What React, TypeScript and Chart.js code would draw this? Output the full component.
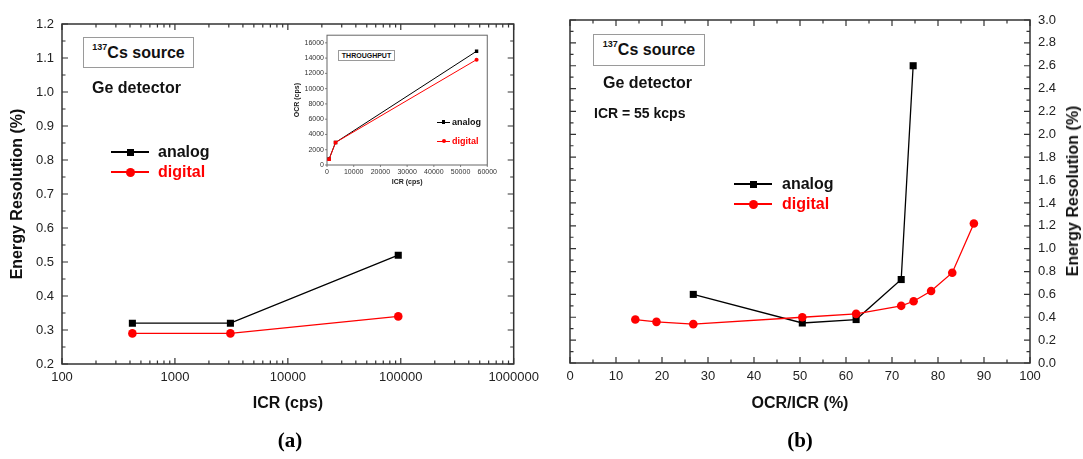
import React, { useEffect, useRef } from "react";
import { Chart, registerables } from "chart.js";
Chart.register(...registerables);

// ---------- data ----------
const icrValues = [420, 3100, 95000];
const analogResA = [0.32, 0.32, 0.52];
const digitalResA = [0.29, 0.29, 0.34];

const insetAnalogIcr = [800, 3200, 56000];
const insetAnalogOcr = [800, 2950, 14900];
const insetDigitalIcr = [800, 3200, 56000];
const insetDigitalOcr = [750, 2950, 13800];

const ratioAnalog = [26.8, 50.5, 62.2, 72.0, 74.6];
const analogResB = [0.6, 0.35, 0.38, 0.73, 2.6];
const ratioDigital = [14.2, 18.8, 26.8, 50.5, 62.2, 72.0, 74.7, 78.5, 83.1, 87.8];
const digitalResB = [0.38, 0.36, 0.34, 0.4, 0.43, 0.5, 0.54, 0.63, 0.79, 1.22];

// ---------- tick labels ----------
const icrAxisTicks = [100, 1000, 10000, 100000, 1000000];
const resAxisTicksA = [0.2, 0.3, 0.4, 0.5, 0.6, 0.7, 0.8, 0.9, 1.0, 1.1, 1.2];
const ratioAxisTicks = [0, 10, 20, 30, 40, 50, 60, 70, 80, 90, 100];
const resAxisTicksB = [0, 0.2, 0.4, 0.6, 0.8, 1.0, 1.2, 1.4, 1.6, 1.8, 2.0, 2.2, 2.4, 2.6, 2.8, 3.0];
const insetIcrTicks = [0, 10000, 20000, 30000, 40000, 50000, 60000];
const insetOcrTicks = [0, 2000, 4000, 6000, 8000, 10000, 12000, 14000, 16000];

const SANS = "'Liberation Sans', Arial, sans-serif";
const SERIF = "'Liberation Serif', 'Times New Roman', serif";
const RED = "#ff0000";

const mids = (a: number[]) => a.slice(0, -1).map((v, i) => (v + a[i + 1]) / 2);
const logMinor = (a: number[]) =>
  a.slice(0, -1).flatMap((d) => [2, 3, 4, 5, 6, 7, 8, 9].map((m) => m * d));

const framePlugin = {
  id: "frame",
  beforeDatasetsDraw(chart: any, _args: any, o: any) {
    const { ctx, chartArea, scales } = chart;
    const { left, right, top, bottom } = chartArea;
    const x = scales.x, y = scales.y;
    ctx.save();
    ctx.strokeStyle = o.color;
    ctx.lineWidth = o.lineWidth;
    ctx.strokeRect(left, top, right - left, bottom - top);
    ctx.lineWidth = o.tickWidth;
    ctx.beginPath();
    const d = o.dir;
    const xt = (vals: number[], len: number) =>
      vals.forEach((v) => {
        const p = x.getPixelForValue(v);
        ctx.moveTo(p, bottom);
        ctx.lineTo(p, bottom - d * len);
        if (o.mirror) {
          ctx.moveTo(p, top);
          ctx.lineTo(p, top + d * len);
        }
      });
    const yt = (vals: number[], len: number) =>
      vals.forEach((v) => {
        const p = y.getPixelForValue(v);
        ctx.moveTo(left, p);
        ctx.lineTo(left + d * len, p);
        if (o.mirror) {
          ctx.moveTo(right, p);
          ctx.lineTo(right - d * len, p);
        }
      });
    xt(o.xMajor, o.majorLen);
    xt(o.xMinor, o.minorLen);
    yt(o.yMajor, o.majorLen);
    yt(o.yMinor, o.minorLen);
    ctx.stroke();
    ctx.restore();
  },
};

const setTicks = (vals: number[]) => (s: any) => {
  s.ticks = vals.map((v) => ({ value: v }));
};

function makeSeries(xs: number[], ys: number[]) {
  return xs.map((x, i) => ({ x, y: ys[i] }));
}

function useChart(ref: React.RefObject<HTMLCanvasElement>, cfg: () => any) {
  useEffect(() => {
    if (!ref.current) return;
    const c = new Chart(ref.current, cfg());
    return () => c.destroy();
  }, []);
}

const tickFont = { family: SANS, size: 13 };
const titleFont = { family: SANS, size: 16, weight: "bold" as const };

function leftConfig() {
  return {
    type: "scatter",
    data: {
      datasets: [
        {
          label: "digital",
          data: makeSeries(icrValues, digitalResA),
          showLine: true,
          borderColor: RED,
          borderWidth: 1.3,
          pointStyle: "circle",
          pointRadius: 4.3,
          pointBackgroundColor: RED,
          pointBorderColor: RED,
          pointBorderWidth: 0,
        },
        {
          label: "analog",
          data: makeSeries(icrValues, analogResA),
          showLine: true,
          borderColor: "#000",
          borderWidth: 1.3,
          pointStyle: "rect",
          pointRadius: 5,
          pointBackgroundColor: "#000",
          pointBorderColor: "#000",
          pointBorderWidth: 0,
        },
      ],
    },
    options: {
      animation: false,
      responsive: false,
      events: [],
      layout: { padding: { top: 24, right: 28, left: 0, bottom: 0 } },
      plugins: {
        legend: { display: false },
        tooltip: { enabled: false },
        frame: {
          color: "#333", lineWidth: 1.5, tickWidth: 1.2, majorLen: 6, minorLen: 3.5, dir: 1, mirror: true,
          xMajor: icrAxisTicks, xMinor: logMinor(icrAxisTicks),
          yMajor: resAxisTicksA, yMinor: mids(resAxisTicksA),
        },
      },
      scales: {
        x: {
          type: "logarithmic",
          min: 100,
          max: 1000000,
          afterBuildTicks: setTicks(icrAxisTicks),
          afterFit: (s: any) => { s.height = 95; },
          grid: { display: false, drawTicks: false },
          border: { display: false },
          ticks: { font: tickFont, color: "#222", padding: 6, maxRotation: 0, autoSkip: false, callback: (v: any) => String(v) },
          title: { display: true, text: "ICR (cps)", font: titleFont, color: "#111", padding: { top: 0, bottom: 46 } },
        },
        y: {
          type: "linear",
          min: 0.2,
          max: 1.2,
          afterBuildTicks: setTicks(resAxisTicksA),
          afterFit: (s: any) => { s.width = 62; },
          grid: { display: false, drawTicks: false },
          border: { display: false },
          ticks: { font: tickFont, color: "#222", padding: 8, autoSkip: false, callback: (v: any) => Number(v).toFixed(1) },
          title: { display: true, text: "Energy Resolution (%)", font: titleFont, color: "#111", padding: { top: 8, bottom: 0 } },
        },
      },
    },
    plugins: [framePlugin],
  };
}

function insetConfig() {
  const f7 = { family: SANS, size: 7 };
  return {
    type: "scatter",
    data: {
      datasets: [
        {
          label: "digital",
          data: makeSeries(insetDigitalIcr, insetDigitalOcr),
          showLine: true,
          borderColor: RED,
          borderWidth: 1,
          pointStyle: ["rect", "rect", "circle"],
          pointRadius: [2.6, 2.6, 2],
          pointBackgroundColor: RED,
          pointBorderWidth: 0,
        },
        {
          label: "analog",
          data: makeSeries(insetAnalogIcr, insetAnalogOcr),
          showLine: true,
          borderColor: "#000",
          borderWidth: 1,
          pointStyle: "rect",
          pointRadius: 2.4,
          pointBackgroundColor: "#000",
          pointBorderWidth: 0,
        },
      ],
    },
    options: {
      animation: false,
      responsive: false,
      events: [],
      layout: { padding: { top: 7, right: 7, left: 0, bottom: 0 } },
      plugins: {
        legend: { display: false },
        tooltip: { enabled: false },
        frame: {
          color: "#666", lineWidth: 1, tickWidth: 0.8, majorLen: 2, minorLen: 0, dir: -1, mirror: false,
          xMajor: insetIcrTicks, xMinor: [], yMajor: insetOcrTicks, yMinor: [],
        },
      },
      scales: {
        x: {
          type: "linear",
          min: 0,
          max: 60000,
          afterBuildTicks: setTicks(insetIcrTicks),
          afterFit: (s: any) => { s.height = 28; },
          grid: { display: false, drawTicks: false },
          border: { display: false },
          ticks: { font: f7, color: "#333", padding: 3, maxRotation: 0, autoSkip: false, callback: (v: any) => String(v) },
          title: { display: true, text: "ICR (cps)", font: { family: SANS, size: 7, weight: "bold" }, color: "#222", padding: { top: 0, bottom: 6.8 } },
        },
        y: {
          type: "linear",
          min: 0,
          max: 17000,
          afterBuildTicks: setTicks(insetOcrTicks),
          afterFit: (s: any) => { s.width = 42; },
          grid: { display: false, drawTicks: false },
          border: { display: false },
          ticks: { font: f7, color: "#333", padding: 3, autoSkip: false, callback: (v: any) => String(v) },
          title: { display: true, text: "OCR (cps)", font: { family: SANS, size: 7, weight: "bold" }, color: "#222", padding: { top: 7.8, bottom: 0 } },
        },
      },
    },
    plugins: [framePlugin],
  };
}

function rightConfig() {
  return {
    type: "scatter",
    data: {
      datasets: [
        {
          label: "digital",
          data: makeSeries(ratioDigital, digitalResB),
          showLine: true,
          borderColor: RED,
          borderWidth: 1.3,
          pointStyle: "circle",
          pointRadius: 4.3,
          pointBackgroundColor: RED,
          pointBorderWidth: 0,
        },
        {
          label: "analog",
          data: makeSeries(ratioAnalog, analogResB),
          showLine: true,
          borderColor: "#000",
          borderWidth: 1.3,
          pointStyle: "rect",
          pointRadius: 5,
          pointBackgroundColor: "#000",
          pointBorderWidth: 0,
        },
      ],
    },
    options: {
      animation: false,
      responsive: false,
      events: [],
      layout: { padding: { top: 20, right: 0, left: 25, bottom: 0 } },
      plugins: {
        legend: { display: false },
        tooltip: { enabled: false },
        frame: {
          color: "#333", lineWidth: 1.5, tickWidth: 1.2, majorLen: 6, minorLen: 3.5, dir: 1, mirror: true,
          xMajor: ratioAxisTicks, xMinor: mids(ratioAxisTicks),
          yMajor: resAxisTicksB, yMinor: mids(resAxisTicksB),
        },
      },
      scales: {
        x: {
          type: "linear",
          min: 0,
          max: 100,
          afterBuildTicks: setTicks(ratioAxisTicks),
          afterFit: (s: any) => { s.height = 96; },
          grid: { display: false, drawTicks: false },
          border: { display: false },
          ticks: { font: tickFont, color: "#222", padding: 6, maxRotation: 0, autoSkip: false, callback: (v: any) => String(v) },
          title: { display: true, text: "OCR/ICR (%)", font: titleFont, color: "#111", padding: { top: 0, bottom: 46 } },
        },
        y: {
          type: "linear",
          position: "right",
          min: 0,
          max: 3,
          afterBuildTicks: setTicks(resAxisTicksB),
          afterFit: (s: any) => { s.width = 53; },
          grid: { display: false, drawTicks: false },
          border: { display: false },
          ticks: { font: tickFont, color: "#222", padding: 8, autoSkip: false, callback: (v: any) => Number(v).toFixed(1) },
          title: { display: false },
        },
      },
    },
    plugins: [framePlugin],
  };
}

const abs = (s: React.CSSProperties): React.CSSProperties => ({ position: "absolute", ...s });

function Label(props: { x: number; y: number; text: React.ReactNode; size: number; color?: string; center?: boolean; family?: string; rotate?: number }) {
  const { x, y, text, size, color = "#111", center = false, family = SANS, rotate = 0 } = props;
  return (
    <div
      style={abs({
        left: x,
        top: y,
        transform: `translate(${center ? "-50%" : "0"}, -50%) rotate(${rotate}deg)`,
        fontFamily: family,
        fontWeight: "bold",
        fontSize: size,
        color,
        whiteSpace: "nowrap",
        lineHeight: 1,
      })}
    >
      {text}
    </div>
  );
}

function Box(props: { x1: number; y1: number; x2: number; y2: number; children: React.ReactNode; size: number }) {
  const { x1, y1, x2, y2, children, size } = props;
  return (
    <div
      style={abs({
        left: x1,
        top: y1,
        width: x2 - x1,
        height: y2 - y1,
        boxSizing: "border-box",
        border: "1px solid #9a9a9a",
        display: "flex",
        alignItems: "center",
        justifyContent: "center",
        fontFamily: SANS,
        fontWeight: "bold",
        fontSize: size,
        color: "#111",
        whiteSpace: "nowrap",
        background: "#fff",
      })}
    >
      {children}
    </div>
  );
}

function LegendRow(props: { x1: number; x2: number; y: number; color: string; marker: "rect" | "circle"; msize: number; textX: number; text: string; size: number; lw?: number }) {
  const { x1, x2, y, color, marker, msize, textX, text, size, lw = 1.4 } = props;
  const mx = (x1 + x2) / 2;
  return (
    <>
      <div style={abs({ left: x1, top: y - lw / 2, width: x2 - x1, height: lw, background: color })} />
      <div
        style={abs({
          left: mx - msize / 2,
          top: y - msize / 2,
          width: msize,
          height: msize,
          background: color,
          borderRadius: marker === "circle" ? "50%" : 0,
        })}
      />
      <Label x={textX} y={y} text={text} size={size} color={color === RED ? RED : "#111"} />
    </>
  );
}

function Source({ sup }: { sup: number }) {
  return (
    <span>
      <sup style={{ fontSize: sup, verticalAlign: "top", position: "relative", top: -2 }}>137</sup>Cs source
    </span>
  );
}

export default function App() {
  const leftRef = useRef<HTMLCanvasElement>(null);
  const insetRef = useRef<HTMLCanvasElement>(null);
  const rightRef = useRef<HTMLCanvasElement>(null);
  useChart(leftRef, leftConfig);
  useChart(rightRef, rightConfig);
  useChart(insetRef, insetConfig);

  return (
    <div style={abs({ left: 0, top: 0, width: 1083, height: 459, background: "#fff", overflow: "hidden" })}>
      <canvas ref={leftRef} width={545} height={459} style={abs({ left: 0, top: 0, width: 545, height: 459 })} />
      <canvas ref={rightRef} width={538} height={459} style={abs({ left: 545, top: 0, width: 538, height: 459 })} />

      {/* left panel annotations */}
      <Box x1={83} y1={37} x2={194} y2={68} size={16}>
        <Source sup={9} />
      </Box>
      <Label x={92} y={88} text="Ge detector" size={16} />
      <LegendRow x1={111} x2={149} y={152} color="#000" marker="rect" msize={7} textX={158} text="analog" size={16} />
      <LegendRow x1={111} x2={149} y={172} color={RED} marker="circle" msize={9} textX={158} text="digital" size={16} />

      {/* inset */}
      <canvas ref={insetRef} width={215} height={165} style={abs({ left: 285, top: 28, width: 215, height: 165 })} />
      <Box x1={338} y1={50} x2={395} y2={61} size={7}>
        THROUGHPUT
      </Box>
      <LegendRow x1={437} x2={450} y={122} color="#000" marker="rect" msize={3.5} textX={452} text="analog" size={9} lw={1} />
      <LegendRow x1={437} x2={450} y={141} color={RED} marker="circle" msize={4} textX={452} text="digital" size={9} lw={1} />

      {/* right panel annotations */}
      <Box x1={593} y1={34} x2={705} y2={66} size={16}>
        <Source sup={9} />
      </Box>
      <Label x={603} y={83} text="Ge detector" size={16} />
      <Label x={594} y={113} text="ICR = 55 kcps" size={14} />
      <LegendRow x1={734} x2={772} y={184} color="#000" marker="rect" msize={7} textX={782} text="analog" size={16} />
      <LegendRow x1={734} x2={772} y={204} color={RED} marker="circle" msize={9} textX={782} text="digital" size={16} />
      <Label x={1073} y={191} text="Energy Resolution (%)" size={16} center rotate={-90} />

      {/* panel letters */}
      <Label x={290} y={440} text="(a)" size={21} center family={SERIF} color="#000" />
      <Label x={800} y={440} text="(b)" size={21} center family={SERIF} color="#000" />
    </div>
  );
}
